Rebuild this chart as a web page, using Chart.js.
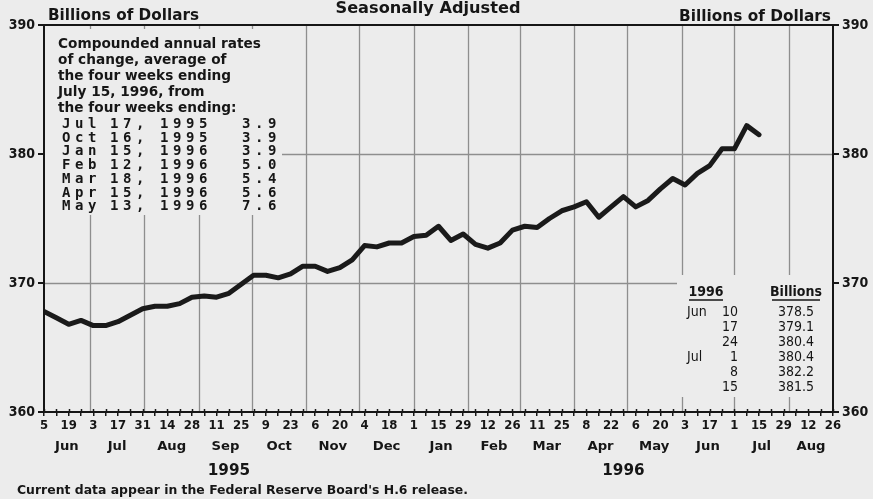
<!DOCTYPE html>
<html>
<head>
<meta charset="utf-8">
<script src="https://cdn.jsdelivr.net/npm/chart.js@4.4.1/dist/chart.umd.min.js"></script>
<style>
  html, body { margin: 0; padding: 0; background: #ececec; }
</style>
</head>
<body>
<canvas id="myChart" width="873" height="499"></canvas>
<script>
/*====== data =======*/
// weekly, first week ending Jun 5 1995, axis runs to Aug 26 1996
const startWeek = Date.UTC(1995, 5, 5);
const weekCount = 65;

const reserveValues = [
  367.8, 367.3, 366.8, 367.1, 366.7, 366.7, 367.0, 367.5, 368.0, 368.2,
  368.2, 368.4, 368.9, 369.0, 368.9, 369.2, 369.9, 370.6, 370.6, 370.4,
  370.7, 371.3, 371.3, 370.9, 371.2, 371.8, 372.9, 372.8, 373.1, 373.1,
  373.6, 373.7, 374.4, 373.3, 373.8, 373.0, 372.7, 373.1, 374.1, 374.4,
  374.3, 375.0, 375.6, 375.9, 376.3, 375.1, 375.9, 376.7, 375.9, 376.4,
  377.3, 378.1, 377.6, 378.5, 379.1, 380.4, 380.4, 382.2, 381.5
];

const dayTicks = ['5','19','3','17','31','14','28','11','25','9','23','6','20','4','18','1',
  '15','29','12','26','11','25','8','22','6','20','3','17','1','15','29','12','26'];

const yTicks = [360, 370, 380, 390];

const months = [
  [1995, 5, 'Jun'], [1995, 6, 'Jul'], [1995, 7, 'Aug'], [1995, 8, 'Sep'], [1995, 9, 'Oct'],
  [1995, 10, 'Nov'], [1995, 11, 'Dec'], [1996, 0, 'Jan'], [1996, 1, 'Feb'], [1996, 2, 'Mar'],
  [1996, 3, 'Apr'], [1996, 4, 'May'], [1996, 5, 'Jun'], [1996, 6, 'Jul'], [1996, 7, 'Aug']
];
const years = ['1995', '1996'];

const noteLines = ['Compounded annual rates', 'of change, average of', 'the four weeks ending',
  'July 15, 1996, from', 'the four weeks ending:'];
const rateMonths = ['Jul', 'Oct', 'Jan', 'Feb', 'Mar', 'Apr', 'May'];
const rateDays   = ['17,', '16,', '15,', '12,', '18,', '15,', '13,'];
const rateYears  = ['1995', '1995', '1996', '1996', '1996', '1996', '1996'];
const rateValues = ['3.9', '3.9', '3.9', '5.0', '5.4', '5.6', '7.6'];

const recentMonths = ['Jun', '', '', 'Jul', '', ''];
const recentDays   = ['10', '17', '24', '1', '8', '15'];
const recentValues = ['378.5', '379.1', '380.4', '380.4', '382.2', '381.5'];

/*====== helpers =======*/
const paper = '#ececec';
const ink = '#161616';
const round = '"DejaVu Sans", Lato, sans-serif';
const narrow = '"DejaVu Sans Condensed", "DejaVu Sans", sans-serif';
let stretch = 1;

function weekIndex(y, m, d) {
  return (Date.UTC(y, m, d) - startWeek) / (7 * 864e5);
}

// boxes where the grid is left out (note on the left, table on the right)
const noteBox = { right: 282, bottom: 215 };
const tableBox = { left: 677, top: 275, bottom: 397 };

function text(c, s, x, y, font, align) {
  c.font = font;
  c.textAlign = align || 'left';
  c.textBaseline = 'alphabetic';
  c.fillText(s, x, y);
}

// wide display face: squeeze/stretch to the given width (or the shared stretch)
function wide(c, s, x, y, font, align, w) {
  c.font = font;
  c.textAlign = align || 'left';
  c.textBaseline = 'alphabetic';
  const k = w ? w / c.measureText(s).width : stretch;
  c.save();
  c.translate(x, y);
  c.scale(k, 1);
  c.fillText(s, 0, 0);
  c.restore();
  return k;
}

function spaced(c, s, x, y, step) {
  for (let i = 0; i < s.length; i++) {
    c.fillText(s[i], x + i * step, y);
  }
}

const paperPlugin = {
  id: 'paper',
  beforeDraw(chart) {
    const c = chart.ctx;
    c.save();
    c.fillStyle = paper;
    c.fillRect(0, 0, chart.width, chart.height);
    c.restore();
  },
  beforeDatasetsDraw(chart) {
    const c = chart.ctx, a = chart.chartArea, x = chart.scales.x, y = chart.scales.y;
    c.save();
    c.strokeStyle = '#8e8e8e';
    c.lineWidth = 1.3;
    months.slice(1).forEach(mo => {
      const px = Math.round(x.getPixelForValue(weekIndex(mo[0], mo[1], 1))) + 0.5;
      let segs = [[a.top, a.bottom]];
      if (px < noteBox.right) segs = [[a.top, a.top + 4], [noteBox.bottom, a.bottom]];
      else if (px > tableBox.left) segs = [[a.top, tableBox.top], [tableBox.bottom, a.bottom]];
      segs.forEach(s => {
        c.beginPath(); c.moveTo(px, s[0]); c.lineTo(px, s[1]); c.stroke();
      });
    });
    [370, 380].forEach(v => {
      const py = Math.round(y.getPixelForValue(v)) + 0.5;
      let x0 = a.left, x1 = a.right;
      if (py < noteBox.bottom) x0 = noteBox.right;
      if (py > tableBox.top && py < tableBox.bottom) x1 = tableBox.left;
      c.beginPath(); c.moveTo(x0, py); c.lineTo(x1, py); c.stroke();
    });
    c.restore();
  },
  afterDraw(chart) {
    const c = chart.ctx, a = chart.chartArea, x = chart.scales.x;
    c.save();
    c.fillStyle = ink;
    c.strokeStyle = ink;

    // frame
    c.lineWidth = 2;
    c.strokeRect(a.left, a.top, a.right - a.left, a.bottom - a.top);

    // small weekly ticks above the axis
    c.lineWidth = 1.5;
    for (let i = 0; i < weekCount; i++) {
      const px = Math.round(x.getPixelForValue(i)) + 0.5;
      c.beginPath(); c.moveTo(px, a.bottom); c.lineTo(px, a.bottom - 3); c.stroke();
    }

    // titles
    stretch = wide(c, 'Billions of Dollars', 48, 20, 'bold 15px ' + round, 'left', 151);
    wide(c, 'Seasonally Adjusted', 428, 13, 'bold 16px ' + round, 'center', 185);
    wide(c, 'Billions of Dollars', 831, 21, 'bold 15px ' + round, 'right', 152);

    // month and year labels
    months.forEach((mo, i) => {
      const s = Math.max(0, weekIndex(mo[0], mo[1], 1));
      const nx = months[i + 1];
      const e = nx ? weekIndex(nx[0], nx[1], 1) : weekCount - 1;
      wide(c, mo[2], x.getPixelForValue((s + Math.min(e, weekCount - 1)) / 2), 450, 'bold 13px ' + round, 'center');
    });
    const jan = weekIndex(1996, 0, 1);
    wide(c, years[0], x.getPixelForValue(jan / 2), 475, 'bold 15px ' + round, 'center');
    wide(c, years[1], x.getPixelForValue((jan + weekCount - 1) / 2), 475, 'bold 15px ' + round, 'center');

    // note on the left
    const k = wide(c, noteLines[0], 58, 48, 'bold 14px ' + round, 'left', 203);
    const keep = stretch;
    stretch = k;
    noteLines.slice(1).forEach((s, i) => wide(c, s, 58, 64 + i * 16, 'bold 14px ' + round));
    stretch = keep;
    c.font = 'bold 14px "DejaVu Sans Mono", monospace';
    c.textAlign = 'left';
    rateMonths.forEach((m, i) => {
      const by = 128 + i * 13.7;
      spaced(c, m, 62, by, 13);
      spaced(c, rateDays[i], 110, by, 13);
      spaced(c, rateYears[i], 160, by, 13);
      spaced(c, rateValues[i], 242, by, 13);
    });

    // table on the right
    text(c, '1996', 706, 296, 'bold 14px ' + narrow, 'center');
    text(c, 'Billions', 796, 296, 'bold 14px ' + narrow, 'center');
    c.lineWidth = 1.5;
    c.beginPath(); c.moveTo(689, 300); c.lineTo(723, 300); c.stroke();
    c.beginPath(); c.moveTo(772, 300); c.lineTo(820, 300); c.stroke();
    recentDays.forEach((d, i) => {
      const by = 316 + i * 15;
      if (recentMonths[i]) text(c, recentMonths[i], 687, by, '14px ' + narrow);
      text(c, d, 738, by, '14px ' + narrow, 'right');
      text(c, recentValues[i], 814, by, '14px ' + narrow, 'right');
    });

    // footnote
    wide(c, "Current data appear in the Federal Reserve Board's H.6 release.", 17, 494, 'bold 13px ' + round, 'left', 451);
    c.restore();
  }
};

/*====== chart =======*/
const points = reserveValues.map((v, i) => ({ x: i, y: v }));

const data = {
  datasets: [{
    label: 'Total reserves',
    data: points,
    borderColor: '#1a1a1a',
    borderWidth: 5,
    pointRadius: 0,
    tension: 0,
    borderJoinStyle: 'round',
    borderCapStyle: 'round'
  }]
};

const yAxis = (pos, width) => ({
  type: 'linear',
  position: pos,
  min: 360,
  max: 390,
  afterBuildTicks: s => { s.ticks = yTicks.map(v => ({ value: v })); },
  afterFit: s => { s.width = width; },
  grid: { drawOnChartArea: false, tickLength: 6, color: ink, lineWidth: 2 },
  border: { color: ink, width: 2 },
  ticks: { color: ink, padding: 3, font: { family: narrow, size: 14, weight: 'bold' } }
});

const config = {
  type: 'line',
  data: data,
  plugins: [paperPlugin],
  options: {
    responsive: false,
    animation: false,
    devicePixelRatio: 1,
    layout: { padding: { top: 25, left: 0, right: 0, bottom: 0 } },
    plugins: { legend: { display: false }, tooltip: { enabled: false } },
    scales: {
      x: {
        type: 'linear',
        min: 0,
        max: weekCount - 1,
        afterFit: s => { s.height = 87; },
        grid: { drawOnChartArea: false, tickLength: 4, color: ink, lineWidth: 1.5 },
        border: { color: ink, width: 2 },
        ticks: {
          stepSize: 1,
          autoSkip: false,
          maxTicksLimit: 100,
          maxRotation: 0,
          padding: 2,
          color: ink,
          font: { family: narrow, size: 13, weight: 'bold' },
          callback: v => (v % 2 === 0 ? dayTicks[v / 2] : '')
        }
      },
      y: yAxis('left', 44),
      y2: yAxis('right', 40)
    }
  }
};

const myChart = new Chart(document.getElementById('myChart'), config);
</script>
</body>
</html>
